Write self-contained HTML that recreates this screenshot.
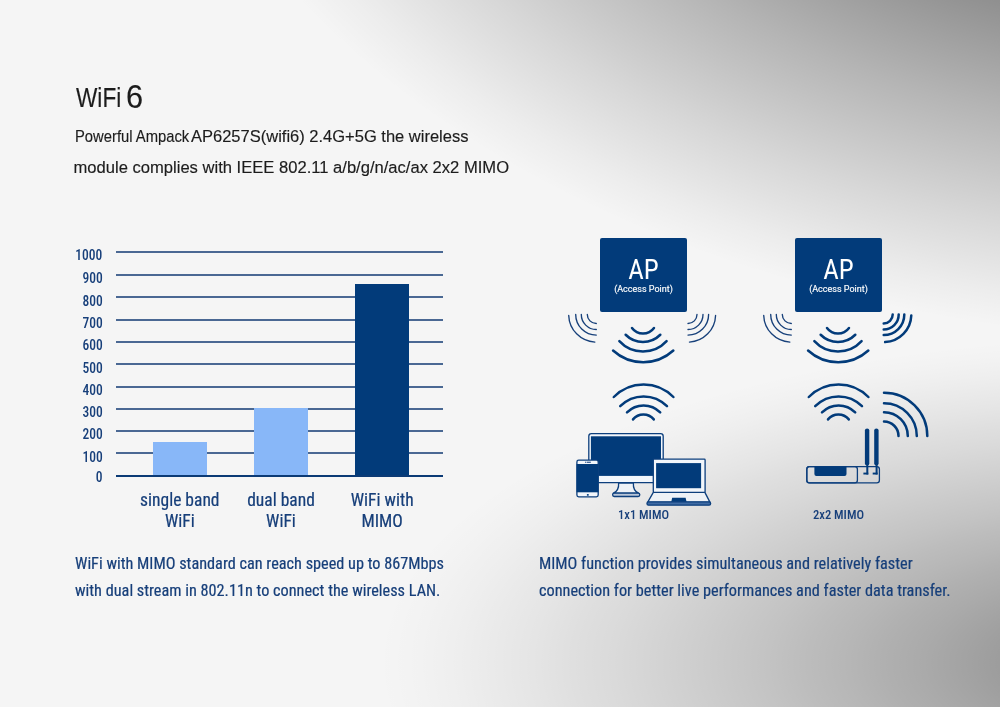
<!DOCTYPE html>
<html><head><meta charset="utf-8">
<style>
html,body{margin:0;padding:0;}
body{width:1000px;height:707px;position:relative;overflow:hidden;background:#f5f5f5;}
#bg{position:absolute;left:0;top:0;width:1000px;height:707px;
background:
 radial-gradient(ellipse 777.6px 327.3px at 1155.6px 662.8px, rgba(0,0,0,0.4733) 0%, rgba(0,0,0,0.4448) 5%, rgba(0,0,0,0.4167) 10%, rgba(0,0,0,0.3888) 15%, rgba(0,0,0,0.3614) 20%, rgba(0,0,0,0.3342) 25%, rgba(0,0,0,0.3075) 30%, rgba(0,0,0,0.2811) 35%, rgba(0,0,0,0.2552) 40%, rgba(0,0,0,0.2297) 45%, rgba(0,0,0,0.2047) 50%, rgba(0,0,0,0.1802) 55%, rgba(0,0,0,0.1563) 60%, rgba(0,0,0,0.1330) 65%, rgba(0,0,0,0.1104) 70%, rgba(0,0,0,0.0886) 75%, rgba(0,0,0,0.0676) 80%, rgba(0,0,0,0.0478) 85%, rgba(0,0,0,0.0292) 90%, rgba(0,0,0,0.0127) 95%, rgba(0,0,0,0.0000) 100%),
 radial-gradient(ellipse 1103.2px 691.2px at 1253.8px -345.6px, rgba(0,0,0,1.0000) 0%, rgba(0,0,0,0.9449) 5%, rgba(0,0,0,0.8901) 10%, rgba(0,0,0,0.8357) 15%, rgba(0,0,0,0.7815) 20%, rgba(0,0,0,0.7278) 25%, rgba(0,0,0,0.6744) 30%, rgba(0,0,0,0.6214) 35%, rgba(0,0,0,0.5688) 40%, rgba(0,0,0,0.5167) 45%, rgba(0,0,0,0.4650) 50%, rgba(0,0,0,0.4140) 55%, rgba(0,0,0,0.3635) 60%, rgba(0,0,0,0.3136) 65%, rgba(0,0,0,0.2645) 70%, rgba(0,0,0,0.2163) 75%, rgba(0,0,0,0.1690) 80%, rgba(0,0,0,0.1230) 85%, rgba(0,0,0,0.0786) 90%, rgba(0,0,0,0.0366) 95%, rgba(0,0,0,0.0000) 100%),
 #f5f5f5;}
.abs{position:absolute;white-space:nowrap;}
.blk{font-family:"Liberation Sans",Arial,sans-serif;color:#1c1c1c;-webkit-text-stroke:0.15px #1c1c1c;}
.rc{font-family:"Roboto Condensed","Liberation Sans",sans-serif;color:#173f7a;-webkit-text-stroke:0.2px #173f7a;}
.rb{font-family:"Roboto","Liberation Sans",sans-serif;}
.grid{position:absolute;left:116px;width:327px;height:2px;background:#4a6893;}
.ylab{position:absolute;right:897.5px;font-family:"Roboto Condensed","Liberation Sans",sans-serif;font-weight:500;font-size:15.2px;color:#173f7a;line-height:16px;transform:scaleX(0.89);transform-origin:100% 50%;}
.bar{position:absolute;}
.cat{position:absolute;width:120px;text-align:center;font-family:"Roboto Condensed","Liberation Sans",sans-serif;font-size:17.5px;line-height:21px;color:#173f7a;-webkit-text-stroke:0.2px #173f7a;}
</style></head><body><div style="position:absolute;left:0;top:0;width:1000px;height:707px;will-change:transform;">
<div id="bg"></div>

<!-- title -->
<div class="abs blk" style="left:76px;top:81px;font-size:27.6px;line-height:34px;"><span style="display:inline-block;transform:scaleX(0.82);transform-origin:0 0;">WiFi</span></div>
<div class="abs blk" style="left:125.5px;top:77.9px;font-size:32.7px;line-height:38px;"><span style="display:inline-block;transform:scaleX(0.94);transform-origin:0 0;">6</span></div>
<div class="abs blk" style="left:75.4px;top:125px;font-size:16.4px;line-height:22px;"><span style="display:inline-block;transform:scaleX(0.902);transform-origin:0 0;">Powerful Ampack</span></div>
<div class="abs blk" style="left:191px;top:124.5px;font-size:16.5px;line-height:22px;">AP6257S(wifi6) 2.4G+5G the wireless</div>
<div class="abs blk" style="left:73.5px;top:157px;font-size:16.59px;line-height:22px;">module complies with IEEE 802.11 a/b/g/n/ac/ax 2x2 MIMO</div>

<!-- chart -->
<div class="grid" style="top:251.00px"></div>
<div class="grid" style="top:274.00px"></div>
<div class="grid" style="top:296.40px"></div>
<div class="grid" style="top:318.60px"></div>
<div class="grid" style="top:341.00px"></div>
<div class="grid" style="top:363.20px"></div>
<div class="grid" style="top:385.50px"></div>
<div class="grid" style="top:407.70px"></div>
<div class="grid" style="top:430.00px"></div>
<div class="grid" style="top:452.30px"></div>
<div class="bar" style="left:152.6px;width:54.4px;top:442.4px;height:33px;background:#88b7f8"></div>
<div class="bar" style="left:254px;width:54px;top:408.2px;height:67px;background:#88b7f8"></div>
<div class="bar" style="left:355.2px;width:54px;top:284px;height:191px;background:#023b7a"></div>
<div class="grid" style="top:474.6px;height:2.2px;background:#0b3a75"></div>


<div class="ylab" style="top:247.0px">1000</div>
<div class="ylab" style="top:269.8px">900</div>
<div class="ylab" style="top:292.6px">800</div>
<div class="ylab" style="top:314.9px">700</div>
<div class="ylab" style="top:337.4px">600</div>
<div class="ylab" style="top:359.5px">500</div>
<div class="ylab" style="top:381.8px">400</div>
<div class="ylab" style="top:404.0px">300</div>
<div class="ylab" style="top:426.4px">200</div>
<div class="ylab" style="top:448.8px">100</div>
<div class="ylab" style="top:469.3px">0</div>
<div class="cat" style="left:119.8px;top:490px">single band<br>WiFi</div>
<div class="cat" style="left:221px;top:490px">dual band<br>WiFi</div>
<div class="cat" style="left:322.2px;top:490px">WiFi with<br>MIMO</div>

<div class="abs rc" style="left:75px;top:551px;font-size:16.25px;line-height:26.8px;">WiFi with MIMO standard can reach speed up to 867Mbps<br>with dual stream in 802.11n to connect the wireless LAN.</div>
<div class="abs rc" style="left:539px;top:551px;font-size:16.25px;line-height:26.8px;">MIMO function provides simultaneous and relatively faster<br>connection for better live performances and faster data transfer.</div>

<!-- AP boxes -->
<div class="abs" style="left:600px;top:238px;width:87px;height:74px;background:#023b7a;border-radius:2px;"></div>
<div class="abs" style="left:795px;top:238px;width:87px;height:74px;background:#023b7a;border-radius:2px;"></div>
<div class="abs rb" style="left:600px;top:256.2px;width:87px;text-align:center;color:#fff;font-family:'Roboto Condensed','Liberation Sans',sans-serif;font-size:27px;line-height:28px;">AP</div>
<div class="abs rb" style="left:795px;top:256.2px;width:87px;text-align:center;color:#fff;font-family:'Roboto Condensed','Liberation Sans',sans-serif;font-size:27px;line-height:28px;">AP</div>
<div class="abs rb" style="left:600px;top:283px;width:87px;text-align:center;color:#fff;font-size:9px;line-height:11px;padding-top:0.8px;-webkit-text-stroke:0.15px #fff;">(Access Point)</div>
<div class="abs rb" style="left:795px;top:283px;width:87px;text-align:center;color:#fff;font-size:9px;line-height:11px;padding-top:0.8px;-webkit-text-stroke:0.15px #fff;">(Access Point)</div>

<div class="abs rb" style="left:593.5px;top:508px;width:100px;text-align:center;color:#173f7a;font-family:'Roboto Condensed','Liberation Sans',sans-serif;font-size:12.6px;font-weight:500;line-height:13px;">1x1 MIMO</div>
<div class="abs rb" style="left:788.5px;top:508px;width:100px;text-align:center;color:#173f7a;font-family:'Roboto Condensed','Liberation Sans',sans-serif;font-size:12.6px;font-weight:500;line-height:13px;">2x2 MIMO</div>

<svg class="abs" style="left:0;top:0" width="1000" height="707" viewBox="0 0 1000 707" fill="none" stroke-linecap="round">
<g stroke="#023b7a" stroke-width="2.5"><path d="M632.00 328.00A13.60 13.60 0 0 0 654.00 328.00"/><path d="M625.65 334.75A24.44 24.44 0 0 0 660.30 334.75"/><path d="M619.35 341.05A32.14 32.14 0 0 0 666.60 341.05"/><path d="M613.05 350.50A44.70 44.70 0 0 0 673.35 350.50"/><path d="M633.00 419.40A13.32 13.32 0 0 1 653.80 419.40"/><path d="M627.00 412.40A23.18 23.18 0 0 1 660.20 412.40"/><path d="M620.20 406.20A32.84 32.84 0 0 1 667.00 406.20"/><path d="M613.80 397.00A41.54 41.54 0 0 1 673.40 397.00"/></g>
<g stroke="#023b7a" stroke-width="2.5"><path d="M827.00 328.00A13.60 13.60 0 0 0 849.00 328.00"/><path d="M820.65 334.75A24.44 24.44 0 0 0 855.30 334.75"/><path d="M814.35 341.05A32.14 32.14 0 0 0 861.60 341.05"/><path d="M808.05 350.50A44.70 44.70 0 0 0 868.35 350.50"/><path d="M828.00 419.40A13.32 13.32 0 0 1 848.80 419.40"/><path d="M822.00 412.40A23.18 23.18 0 0 1 855.20 412.40"/><path d="M815.20 406.20A32.84 32.84 0 0 1 862.00 406.20"/><path d="M808.80 397.00A41.54 41.54 0 0 1 868.40 397.00"/></g>
<g stroke="#17407a" stroke-width="1.35"><path d="M596.30 323.50A9.00 9.00 0 0 1 587.30 314.50"/><path d="M596.30 329.50A15.00 15.00 0 0 1 581.30 314.50"/><path d="M596.30 335.10A20.60 20.60 0 0 1 575.70 314.50"/><path d="M594.86 342.06A27.60 27.60 0 0 1 568.72 315.46"/></g><g stroke="#17407a" stroke-width="1.35"><path d="M688.00 323.50A9.00 9.00 0 0 0 697.00 314.50"/><path d="M688.00 329.50A15.00 15.00 0 0 0 703.00 314.50"/><path d="M688.00 335.10A20.60 20.60 0 0 0 708.60 314.50"/><path d="M689.44 342.06A27.60 27.60 0 0 0 715.58 315.46"/></g>
<g stroke="#17407a" stroke-width="1.35"><path d="M791.30 323.50A9.00 9.00 0 0 1 782.30 314.50"/><path d="M791.30 329.50A15.00 15.00 0 0 1 776.30 314.50"/><path d="M791.30 335.10A20.60 20.60 0 0 1 770.70 314.50"/><path d="M789.86 342.06A27.60 27.60 0 0 1 763.72 315.46"/></g><g stroke="#023b7a" stroke-width="2.5"><path d="M883.70 323.50A9.00 9.00 0 0 0 892.70 314.50"/><path d="M883.70 329.50A15.00 15.00 0 0 0 898.70 314.50"/><path d="M883.70 335.10A20.60 20.60 0 0 0 904.30 314.50"/><path d="M885.14 342.06A27.60 27.60 0 0 0 911.28 315.46"/></g>
<g stroke="#023b7a" stroke-width="2.5"><path d="M884.00 421.50A14.50 14.50 0 0 1 898.50 436.00"/><path d="M884.00 412.20A23.80 23.80 0 0 1 907.80 436.00"/><path d="M884.00 403.20A32.80 32.80 0 0 1 916.80 436.00"/><path d="M884.00 392.70A43.30 43.30 0 0 1 927.30 436.00"/></g>
</svg>
<svg class="abs" style="left:0;top:0" width="1000" height="707" viewBox="0 0 1000 707">
<g stroke="#0d3f7d" stroke-width="1.3" stroke-linejoin="round">
 <!-- monitor -->
 <rect x="588.8" y="433.6" width="74.4" height="49" rx="2.6" fill="#f2f6fb"/>
 <rect x="590.9" y="436.3" width="70.1" height="39.6" fill="#023b7a" stroke="none"/>
 <path d="M618.6 483 C619 488 618 491 613.5 493.2 L638.5 493.2 C634 491 633 488 633.4 483 Z" fill="#eef2f7"/>
 <rect x="612.6" y="493.2" width="27.2" height="3.3" rx="1.65" fill="#b9c6d8"/>
 <!-- phone -->
 <rect x="576.9" y="460.1" width="21.3" height="36.7" rx="1.8" fill="#f2f6fb"/>
 <rect x="576.6" y="464" width="21.9" height="28.3" fill="#023b7a" stroke="none"/>
 <rect x="586.9" y="494.1" width="1.8" height="1.6" fill="#023b7a" stroke="none"/>
 <rect x="585" y="461.7" width="0.9" height="1.1" fill="#1d4683" stroke="none"/><rect x="586.6" y="461.7" width="4.2" height="1.1" fill="#1d4683" stroke="none"/>
 <!-- laptop -->
 <path d="M653.3 492.4 L647.6 502.4 L710 502.4 L704.9 492.4 Z" fill="#eef2f7"/>
 <rect x="653.3" y="459.1" width="51.8" height="33.3" rx="0.8" fill="#f2f6fb"/>
 <rect x="656.1" y="463.1" width="45" height="25.1" fill="#023b7a" stroke="none"/>
 <path d="M672.2 497.8 L685.6 497.8 L686.6 502 L671.2 502 Z" fill="#023b7a" stroke="none"/>
 <rect x="647" y="501.8" width="63.6" height="3.4" rx="1.4" fill="#3f6aa3"/>
</g>
<!-- router -->
<g stroke="#0d3f7d" stroke-width="1.3" fill="none">
 <rect x="806.8" y="466.7" width="72.6" height="16.1" rx="2.6"/>
 <rect x="806.8" y="466.7" width="50.6" height="16.1" rx="2.6"/>
</g>
<path d="M814.4 466.6 H846.5 V474 Q846.5 476 844.5 476 H816.4 Q814.4 476 814.4 474 Z" fill="#023b7a"/>
<g fill="#023b7a">
 <rect x="864.9" y="428.4" width="4.4" height="37" rx="2.2"/>
 <rect x="874.2" y="428.4" width="4.4" height="37" rx="2.2"/>
 <rect x="866.3" y="463" width="2" height="11.5"/>
 <rect x="875.6" y="463" width="2" height="11.5"/>
 <rect x="863.4" y="472.6" width="4.9" height="1.9"/>
 <rect x="872.7" y="472.6" width="4.9" height="1.9"/>
</g>

</svg>
<script>
(function(){try{
var c=document.createElement('canvas').getContext('2d');
var t='WiFi with MIMO standard can reach speed up to 867Mbps';
c.font='16px "Roboto Condensed"';var w1=c.measureText(t).width;
if(Math.abs(w1-363.34)<4)return;
c.font='16px "Liberation Sans"';var w2=c.measureText(t).width;if(!w2)return;
var r=363.34/w2;
var t2='(Access Point)';c.font='9px Roboto';var w3=c.measureText(t2).width;
c.font='9px "Liberation Sans"';var w4=c.measureText(t2).width;
var r2=(Math.abs(w3-58.66)<3)?1:58.66/w4;
var els=document.querySelectorAll('.rc,.cat,.ylab,.rb');
for(var i=0;i<els.length;i++){var e=els[i];var cs=getComputedStyle(e);
var fam=cs.fontFamily;var k=(fam.indexOf('Roboto Condensed')>=0)?r:r2;
var base=e.classList.contains('ylab')?0.89:1;
e.style.transform='scaleX('+(k*base)+')';
e.style.transformOrigin=e.classList.contains('ylab')?'100% 50%':(e.classList.contains('rc')?'0 0':'50% 50%');}
}catch(err){}})();
</script>
</div></body></html>
